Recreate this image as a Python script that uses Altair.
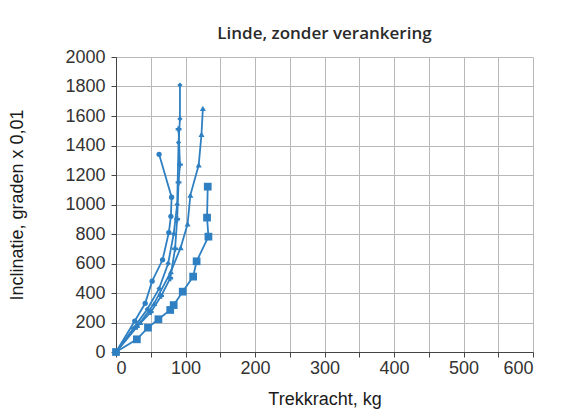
import altair as alt
import pandas as pd

# Data (Trekkracht kg, Inclinatie graden x 0,01)
s1_x = [0, 27, 42, 52, 67, 76, 79, 80, 62]
s1_y = [0, 210, 330, 480, 625, 810, 920, 1050, 1340]

s2_x = [0, 25, 45, 62, 75, 83, 88, 90, 92, 92]
s2_y = [0, 160, 290, 430, 600, 800, 1000, 1420, 1580, 1810]

s3_x = [0, 30, 50, 65, 78, 85, 88, 90, 92, 90]
s3_y = [0, 170, 270, 380, 500, 700, 900, 1150, 1270, 1510]

s4_x = [0, 35, 55, 79, 93, 103, 107, 119, 123, 125]
s4_y = [0, 200, 330, 545, 707, 868, 1064, 1268, 1476, 1652]

s5_x = [0, 30, 46, 61, 78, 83, 96, 111, 116, 133, 131, 132]
s5_y = [0, 86, 165, 222, 285, 318, 409, 511, 615, 782, 911, 1121]

series = [
    ("A", "circle", 28, s1_x, s1_y),
    ("B", "diamond", 28, s2_x, s2_y),
    ("C", "cross", 34, s3_x, s3_y),
    ("D", "triangle-up", 36, s4_x, s4_y),
    ("E", "square", 60, s5_x, s5_y),
]

rows = []
for name, shape, size, xs, ys in series:
    for i, (x, y) in enumerate(zip(xs, ys)):
        rows.append({"serie": name, "shape": shape, "size": size,
                     "idx": i, "x": x, "y": y})
df = pd.DataFrame(rows)

blue = "#2f80c2"
font = "Liberation Sans"

x_enc = alt.X("x:Q", scale=alt.Scale(domain=[0, 600]),
              axis=alt.Axis(title="Trekkracht, kg", format="d",
                            values=list(range(0, 601, 50)),
                            labelExpr="datum.value % 100 == 0 ? datum.label : ''"))
y_enc = alt.Y("y:Q", scale=alt.Scale(domain=[0, 2000]),
              axis=alt.Axis(title="Inclinatie, graden x 0,01", format="d",
                            values=list(range(0, 2001, 200))))

base = alt.Chart(df).encode(x=x_enc, y=y_enc, detail="serie:N",
                            order="idx:Q")

lines = base.mark_line(color=blue, strokeWidth=1.8)
points = base.mark_point(color=blue, filled=True, opacity=1).encode(
    shape=alt.Shape("shape:N", scale=None),
    size=alt.Size("size:Q", scale=None),
)

chart = (lines + points).properties(
    width=417, height=295,
    title=alt.TitleParams("Linde, zonder verankering", fontSize=17,
                          font="Open Sans", fontWeight=600,
                          color="#2a2a2a", offset=5),
    autosize=alt.AutoSizeParams(type="none"),
    padding={"left": 108, "top": 49, "right": 24, "bottom": 60},
    background="white",
).configure_axis(
    gridColor="#b8b8b8", gridWidth=1,
    domainColor="#444", tickColor="#444", tickSize=5,
    labelFont=font, labelFontSize=18, labelColor="#333",
    titleFont=font, titleFontSize=18, titleFontWeight="normal",
    titleColor="#1a1a1a",
).configure_axisX(titlePadding=13, labelPadding=2
).configure_axisY(titlePadding=38, labelPadding=6
).configure_view(stroke=None)

chart.save("out.html", embed_options={"renderer": "svg", "actions": False})
